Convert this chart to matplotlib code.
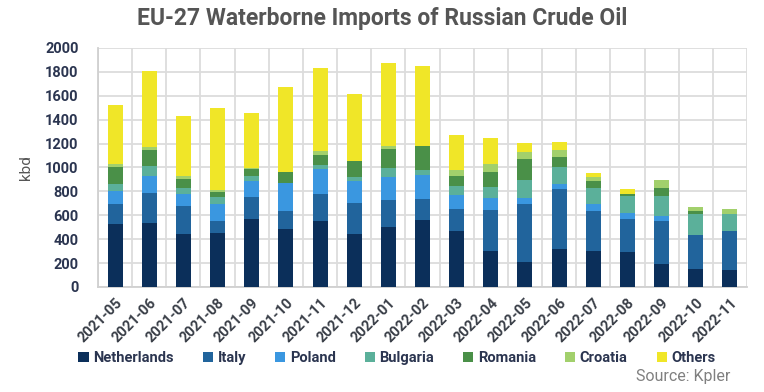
import matplotlib
matplotlib.use("Agg")
import matplotlib.pyplot as plt
import numpy as np
from matplotlib.patches import Patch

months = ["2021-05", "2021-06", "2021-07", "2021-08", "2021-09", "2021-10", "2021-11",
          "2021-12", "2022-01", "2022-02", "2022-03", "2022-04", "2022-05", "2022-06",
          "2022-07", "2022-08", "2022-09", "2022-10", "2022-11"]

netherlands = [530, 537, 445, 453, 568, 487, 551, 445, 501, 559, 467, 299, 213, 318, 301, 293, 195, 153, 139]
italy       = [165, 246, 232, 101, 182, 148, 224, 254, 223, 174, 185, 344, 481, 505, 335, 276, 357, 282, 330]
poland      = [112, 148, 98, 142, 139, 232, 215, 190, 193, 207, 114, 98, 47, 42, 56, 50, 42, 0, 0]
bulgaria    = [58, 81, 56, 54, 42, 0, 31, 34, 82, 42, 81, 98, 157, 139, 139, 142, 170, 176, 142]
romania     = [140, 138, 75, 42, 59, 98, 84, 134, 159, 198, 84, 126, 176, 84, 59, 14, 67, 25, 0]
croatia     = [28, 22, 25, 22, 3, 0, 33, 0, 22, 0, 51, 67, 56, 58, 30, 6, 64, 36, 39]
others      = [487, 638, 498, 682, 464, 710, 697, 562, 697, 672, 288, 213, 75, 67, 37, 42, 0, 0, 0]

series_names = ["Netherlands", "Italy", "Poland", "Bulgaria", "Romania", "Croatia", "Others"]
series = [netherlands, italy, poland, bulgaria, romania, croatia, others]
colors = ["#0b2f5a", "#21649c", "#3a97e0", "#5bb09a", "#4a9048", "#a2d06c", "#f0e628"]

plt.rcParams['font.family'] = ['Roboto', 'DejaVu Sans']

fig = plt.figure(figsize=(7.64, 3.92), dpi=100)
ax = fig.add_axes([98/764, 1-287/392, (747-98)/764, (287-48)/392])

x = np.arange(len(months))
bottom = np.zeros(len(months))
for name, vals, c in zip(series_names, series, colors):
    v = np.array(vals, dtype=float)
    ax.bar(x, v, bottom=bottom, width=0.44, color=c, label=name, zorder=3)
    bottom += v

ax.set_xlim(-0.5, len(months) - 0.5)
ax.set_ylim(0, 2000)
ax.set_xticks(x)
ax.set_xticks(np.arange(-0.5, len(months), 1), minor=True)
ax.grid(axis='y', color='#dcdcdc', linewidth=1.3, zorder=0)
ax.grid(axis='x', which='minor', color='#dcdcdc', linewidth=1.3, zorder=0)
ax.tick_params(axis='both', which='both', length=0)
for s in ['top', 'right']:
    ax.spines[s].set_visible(False)
for s in ['left', 'bottom']:
    ax.spines[s].set_color('#d0d0d0')
    ax.spines[s].set_linewidth(1.3)

ax.set_yticks(np.arange(0, 2001, 200))
ax.set_yticklabels([str(v) for v in range(0, 2001, 200)], fontsize=10.5, fontweight='bold', color='#2b3550')
ax.set_xticklabels(months, rotation=45, ha='right', rotation_mode='anchor',
                   fontsize=10.5, fontweight='bold', color='#3a3f48')
ax.tick_params(axis='y', pad=14)
ax.tick_params(axis='x', pad=6)
ax.set_ylabel("kbd", fontsize=11, color='#555555')
ax.yaxis.set_label_coords(-0.1, 0.5)

fig.text(0.5, 1-18/392, "EU-27 Waterborne Imports of Russian Crude Oil", ha='center', va='center',
         fontsize=16.5, fontweight='bold', color='#555555')

handles = [Patch(facecolor=c, label=n) for n, c in zip(series_names, colors)]
leg = fig.legend(handles=handles, loc='center', bbox_to_anchor=(397/764, 1-358/392), ncol=7,
                 frameon=False, handlelength=0.7, handleheight=0.7, handletextpad=0.3,
                 columnspacing=2.0, prop={'weight': 'bold', 'size': 10.5})
for t in leg.get_texts():
    t.set_color('#2b3550')

fig.text(730/764, 1-377/392, "Source: Kpler", ha='right', va='center', fontsize=11.5, color='#808080')

fig.savefig("out.png", dpi=100)
